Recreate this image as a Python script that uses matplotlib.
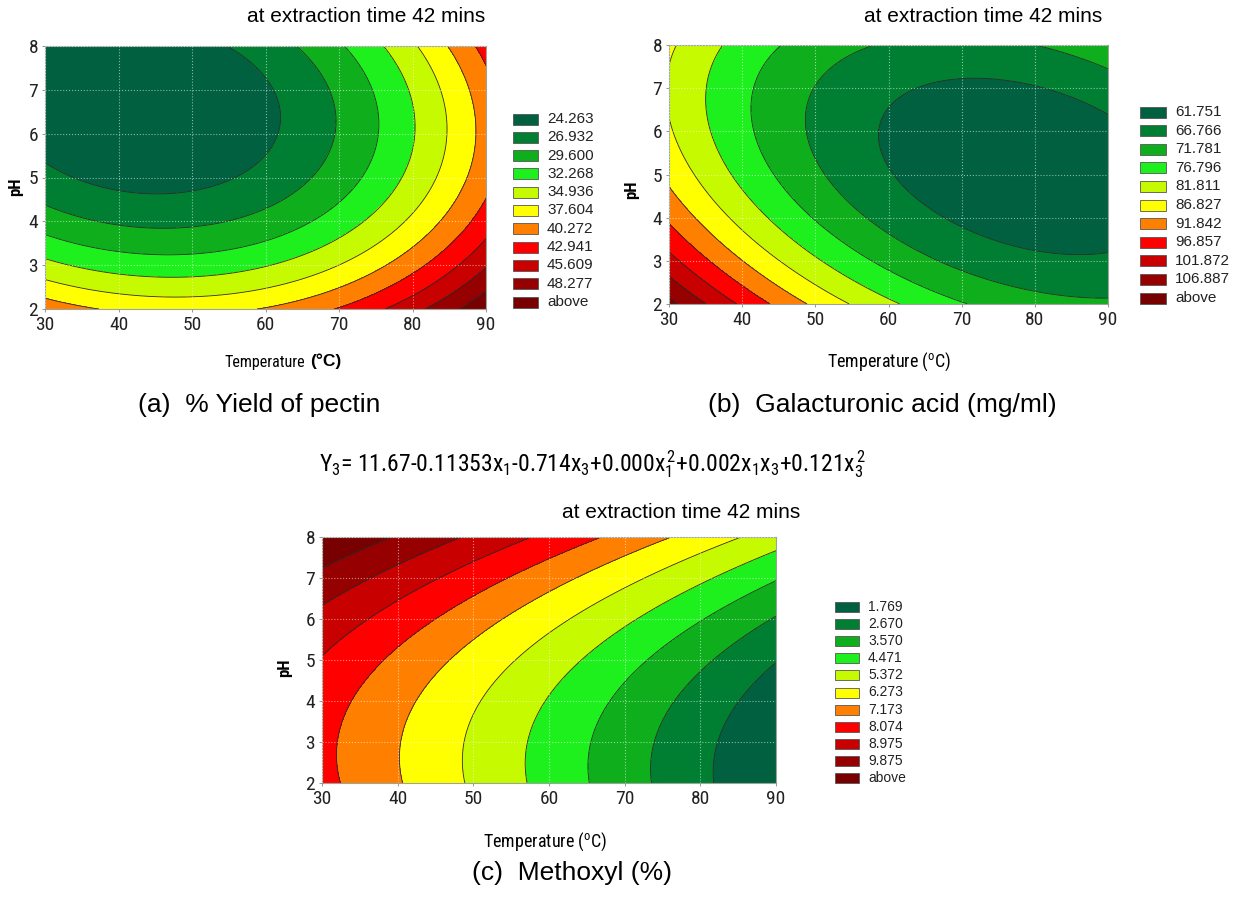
import numpy as np
import matplotlib
matplotlib.use("Agg")
import matplotlib.pyplot as plt
from matplotlib.patches import Rectangle

# ---------------- data ----------------
temp_ticks = [30, 40, 50, 60, 70, 80, 90]
ph_ticks = [2, 3, 4, 5, 6, 7, 8]

yield_levels = [24.263, 26.932, 29.600, 32.268, 34.936, 37.604, 40.272, 42.941, 45.609, 48.277]
galac_levels = [61.751, 66.766, 71.781, 76.796, 81.811, 86.827, 91.842, 96.857, 101.872, 106.887]
methoxyl_levels = [1.769, 2.670, 3.570, 4.471, 5.372, 6.273, 7.173, 8.074, 8.975, 9.875]

# response-surface coefficients: 1, T, pH, T^2, pH^2, T*pH
yield_coef = [72.7493, -0.793253, -10.3652, 0.00789151, 0.730366, 0.0170573]
galac_coef = [190.736, -2.20046, -17.8354, 0.0113358, 1.1157, 0.0793628]
# Y3 = 11.67 - 0.11353 x1 - 0.714 x3 + 0.000 x1^2 + 0.002 x1 x3 + 0.121 x3^2
methoxyl_coef = [11.67, -0.11353, -0.714, 0.000, 0.121, 0.002]

colors = ['#00603f', '#007f33', '#0eae1c', '#1ef01e', '#c6fa00', '#ffff00',
          '#ff8000', '#ff0000', '#c80000', '#960000', '#780000']

W, H = 1246, 899


def surface(c, Tg, Pg):
    return c[0] + c[1]*Tg + c[2]*Pg + c[3]*Tg**2 + c[4]*Pg**2 + c[5]*Tg*Pg


plt.rcParams['font.family'] = ['Liberation Sans', 'DejaVu Sans']
plt.rcParams['mathtext.fontset'] = 'custom'
plt.rcParams['mathtext.rm'] = 'Roboto Condensed'
plt.rcParams['mathtext.it'] = 'Roboto Condensed'
NARROW = ['Roboto Condensed', 'Liberation Sans', 'DejaVu Sans']

fig = plt.figure(figsize=(W/100, H/100), dpi=100)
fig.patch.set_facecolor('white')


def fx(x):
    return x / W


def fy(y):
    return 1 - y / H


def panel(box, coef, levels, legend_x, legend_y0, legend_dy, legend_fs, patch_w, patch_h):
    l, r, t, b = box
    ax = fig.add_axes([fx(l), fy(b), fx(r) - fx(l), fy(t) - fy(b)])
    Tg, Pg = np.meshgrid(np.linspace(30, 90, 301), np.linspace(2, 8, 301))
    Z = surface(coef, Tg, Pg)
    full = [min(Z.min(), levels[0]) - 1] + list(levels) + [max(Z.max(), levels[-1]) + 1]
    ax.contourf(Tg, Pg, Z, levels=full, colors=colors)
    ax.contour(Tg, Pg, Z, levels=levels, colors='#2a2a2a', linewidths=0.6)
    ax.set_xlim(30, 90); ax.set_ylim(2, 8)
    ax.set_xticks(temp_ticks); ax.set_yticks(ph_ticks)
    ax.grid(True, linestyle=':', color='white', alpha=0.55, linewidth=0.8)
    ax.set_axisbelow(False)
    for s in ax.spines.values():
        s.set_color('#9aa59a'); s.set_linewidth(0.8)
    ax.tick_params(length=2, width=0.6, color='#888888', labelsize=14, pad=3, labelcolor='#222222')
    for lab in ax.get_xticklabels() + ax.get_yticklabels():
        lab.set_family(NARROW)
    labels = [f'{v:.3f}' for v in levels] + ['above']
    for i, lab in enumerate(labels):
        yc = legend_y0 + i * legend_dy
        fig.patches.append(Rectangle((fx(legend_x), fy(yc + patch_h/2)), patch_w / W, patch_h / H,
                                     transform=fig.transFigure, facecolor=colors[i],
                                     edgecolor='#555555', linewidth=0.6))
        fig.text(fx(legend_x + patch_w + 9), fy(yc), lab, fontsize=legend_fs,
                 va='center', ha='left', color='#222222')
    return ax


ax_a = panel((45, 486, 46, 309), yield_coef, yield_levels, 513, 119, 18.3, 11, 25, 11)
ax_b = panel((669, 1108, 45, 304), galac_coef, galac_levels, 1140, 112, 18.6, 11, 26, 11)
ax_c = panel((322, 776, 537, 783), methoxyl_coef, methoxyl_levels, 835, 607, 17.1, 10, 24, 10)

# titles
for xc, yc in [(366, 17), (983, 17), (681, 512)]:
    fig.text(fx(xc), fy(yc), 'at extraction time 42 mins', fontsize=15, ha='center', va='center')

# axis labels
fig.text(fx(305), fy(363), 'Temperature', fontsize=11.5, ha='right', va='center', family=NARROW)
fig.text(fx(310), fy(361), '(°C)', fontsize=12.5, ha='left', va='center', fontweight='bold')
fig.text(fx(889), fy(362), 'Temperature ($^{o}$C)', fontsize=13, ha='center', va='center', family=NARROW)
fig.text(fx(545), fy(842), 'Temperature ($^{o}$C)', fontsize=13, ha='center', va='center', family=NARROW)
for xc, yc in [(16, 187), (632, 190), (285, 668)]:
    fig.text(fx(xc), fy(yc), 'pH', fontsize=12, rotation=90, ha='center', va='center',
             fontweight='bold', family=NARROW)

# captions
fig.text(fx(138), fy(405), '(a)  % Yield of pectin', fontsize=19, ha='left', va='center')
fig.text(fx(708), fy(405), '(b)  Galacturonic acid (mg/ml)', fontsize=19, ha='left', va='center')
fig.text(fx(472), fy(873), '(c)  Methoxyl (%)', fontsize=19, ha='left', va='center')

# equation
fig.text(fx(593), fy(464),
         r'Y$_3$= 11.67-0.11353x$_1$-0.714x$_3$+0.000x$_1^{\,2}$+0.002x$_1$x$_3$+0.121x$_3^{\,2}$',
         fontsize=17, ha='center', va='center', family=NARROW)

fig.savefig('out.png', dpi=100)
